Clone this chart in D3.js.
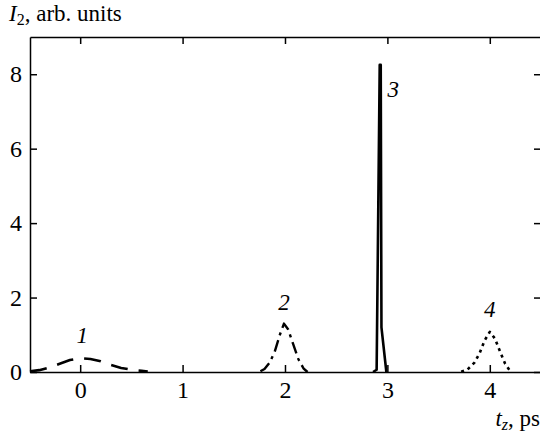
<!DOCTYPE html>
<html>
<head>
<meta charset="utf-8">
<script src="https://cdn.jsdelivr.net/npm/d3@7"></script>
<style>
  body { margin: 0; background: #fff; }
  svg text { font-family: "Liberation Serif", "Times New Roman", serif; }
</style>
</head>
<body>
<div class="chart"></div>
<script>
"use strict";

// Pulse 1: broad, long dashes
const pulse1 = [
  [-0.49, 0.02], [-0.4, 0.05], [-0.3, 0.12], [-0.2, 0.22], [-0.1, 0.32],
  [0, 0.37], [0.1, 0.35], [0.2, 0.29], [0.3, 0.19], [0.4, 0.11],
  [0.5, 0.06], [0.6, 0.03], [0.66, 0.01]
];

// Pulse 2: dash-dot
const pulse2 = [
  [1.76, 0.02], [1.8, 0.08], [1.85, 0.25], [1.9, 0.55], [1.95, 1.0],
  [1.99, 1.3], [2.03, 1.15], [2.08, 0.75], [2.13, 0.35], [2.18, 0.1], [2.22, 0.0]
];

// Pulse 3: narrow solid spike
const pulse3 = [
  [2.86, 0], [2.895, 0.06], [2.925, 8.25], [2.935, 8.25], [2.942, 1.2], [2.99, 0]
];

// Pulse 4: dotted
const pulse4 = [
  [3.72, 0.01], [3.78, 0.06], [3.85, 0.25], [3.9, 0.5], [3.95, 0.85],
  [4.0, 1.08], [4.05, 0.9], [4.1, 0.55], [4.15, 0.22], [4.2, 0.02]
];

const xTicks = [0, 1, 2, 3, 4];
const yTicks = [0, 2, 4, 6, 8];

// Curve labels: [text, t, value]
const curveLabels = [
  ["1", 0.02, 0.78],
  ["2", 1.99, 1.67],
  ["3", 3.0, 7.4],
  ["4", 4.0, 1.47]
];

const width = 540;
const height = 439;
const plotLeft = 30, plotRight = 541, plotTop = 37, plotBottom = 372;

const svg = d3.select(".chart")
  .append("svg")
    .attr("width", width)
    .attr("height", height);

const x = d3.scaleLinear().domain([-0.49, 4.5]).range([plotLeft, plotRight]);
const y = d3.scaleLinear().domain([0, 9]).range([plotBottom, plotTop]);

const tickFont = "24px";
const fontSize = "23px";
const subSize = "16px";

// Axes, ticks pointing inward
svg.append("g")
  .attr("transform", `translate(0, ${plotBottom})`)
  .call(d3.axisBottom(x).tickValues(xTicks).tickFormat(d3.format("d"))
    .tickSize(-7).tickPadding(9).tickSizeOuter(0));

svg.append("g")
  .attr("transform", `translate(0, ${plotTop})`)
  .call(d3.axisTop(x).tickValues(xTicks).tickSize(-7).tickFormat("").tickSizeOuter(0));

svg.append("g")
  .attr("transform", `translate(${plotLeft}, 0)`)
  .call(d3.axisLeft(y).tickValues(yTicks).tickFormat(d3.format("d"))
    .tickSize(-7).tickPadding(8).tickSizeOuter(0));

svg.append("g")
  .attr("transform", `translate(${plotRight}, 0)`)
  .call(d3.axisRight(y).tickValues(yTicks).tickSize(-7).tickFormat("").tickSizeOuter(0));

svg.selectAll("g").attr("font-family", null).attr("font-size", null);

svg.selectAll(".domain, .tick line")
  .attr("stroke", "#000")
  .attr("stroke-width", 1.5);

svg.selectAll(".tick text")
  .style("font-size", tickFont)
  .attr("fill", "#000");

// Curves
const line = d3.line()
  .x(d => x(d[0]))
  .y(d => y(d[1]));

const curves = [
  { data: pulse1, dash: "17,11", width: 2.6 },
  { data: pulse2, dash: "12,5,3,5", width: 2.4 },
  { data: pulse3, dash: null, width: 2.6 },
  { data: pulse4, dash: "3,4", width: 2.6 }
];

svg.append("g")
  .selectAll("path")
  .data(curves)
  .join("path")
    .attr("d", d => line(d.data))
    .attr("fill", "none")
    .attr("stroke", "#000")
    .attr("stroke-width", d => d.width)
    .attr("stroke-dasharray", d => d.dash)
    .attr("stroke-linejoin", "round");

svg.append("g")
  .selectAll("text")
  .data(curveLabels)
  .join("text")
    .attr("x", d => x(d[1]))
    .attr("y", d => y(d[2]))
    .attr("text-anchor", d => d[0] === "3" ? "start" : "middle")
    .style("font-size", fontSize)
    .style("font-style", "italic")
    .text(d => d[0]);

// Axis titles
const yTitle = svg.append("text")
  .attr("x", 9)
  .attr("y", 21)
  .style("font-size", fontSize);
yTitle.append("tspan").style("font-style", "italic").text("I");
yTitle.append("tspan").style("font-size", subSize).attr("dy", 4).text("2");
yTitle.append("tspan").attr("dy", -4).text(", arb. units");

const xTitle = svg.append("text")
  .attr("x", 540)
  .attr("y", 426)
  .attr("text-anchor", "end")
  .style("font-size", fontSize);
xTitle.append("tspan").style("font-style", "italic").text("t");
xTitle.append("tspan").style("font-style", "italic").style("font-size", subSize).attr("dy", 4).text("z");
xTitle.append("tspan").attr("dy", -4).text(", ps");
</script>
</body>
</html>
